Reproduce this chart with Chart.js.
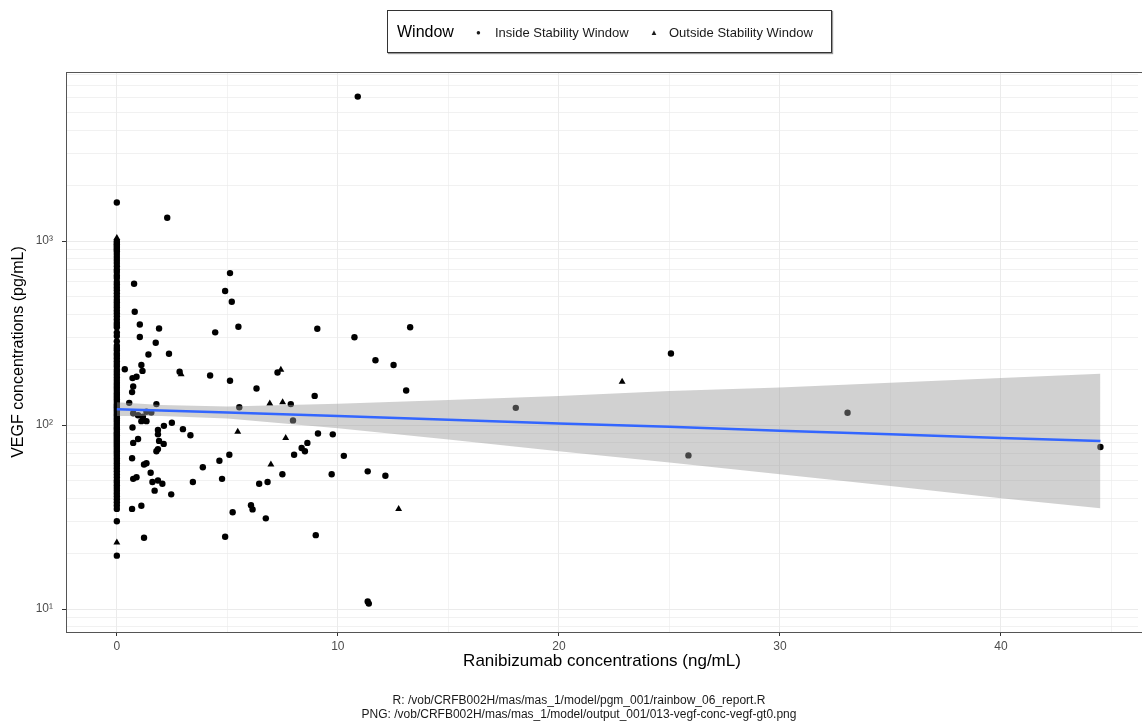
<!DOCTYPE html>
<html>
<head>
<meta charset="utf-8">
<script src="https://cdn.jsdelivr.net/npm/chart.js@4.4.1/dist/chart.umd.min.js"></script>
<style>
  body { margin: 0; background: #fff; font-family: 'Liberation Sans', Arial, sans-serif; }
  #wrap { position: relative; width: 1142px; height: 727px; overflow: hidden; }
  #chart { position: absolute; left: 0; top: 0; }
  #legend {
    position: absolute; left: 387px; top: 10px; width: 443px; height: 41px;
    border: 1px solid #333; box-shadow: 1px 1px 1px #999; background: #fff;
    color: #1a1a1a;
  }
  #legend span { position: absolute; top: 50%; transform: translateY(-50%); white-space: nowrap; }
  #legend .ttl { left: 9px; font-size: 16px; color: #000; }
  #legend .sym { font-size: 8px; }
  #legend .lab { font-size: 13px; }
  #caption {
    position: absolute; left: 0; width: 1158px; top: 693px; text-align: center;
    font-size: 12px; line-height: 14px; color: #1a1a1a;
  }
</style>
</head>
<body>
<div id="wrap">
  <canvas id="chart" width="1142" height="727"></canvas>
  <div id="legend">
    <span class="ttl">Window</span>
    <span class="sym" style="left:88px">&#9679;</span><span class="lab" style="left:107px">Inside Stability Window</span>
    <span class="sym" style="left:262px">&#9650;</span><span class="lab" style="left:281px">Outside Stability Window</span>
  </div>
  <div id="caption">
    R: /vob/CRFB002H/mas/mas_1/model/pgm_001/rainbow_06_report.R<br>
    PNG: /vob/CRFB002H/mas/mas_1/model/output_001/013-vegf-conc-vegf-gt0.png
  </div>
</div>
<script>
// VEGF at zero ranibizumab (inside window)
const zeroInside = [1620, 1000, 980, 960, 940, 920, 900, 880, 850, 820, 790, 760, 730, 700, 680, 650, 630, 600,
  580, 560, 540, 520, 500, 480, 465, 450, 435, 420, 405, 390, 375, 360, 350, 340, 318, 305,
  285, 270, 262, 255, 245, 238, 230, 222, 215, 208, 200, 194, 188, 182, 176, 170, 165, 160,
  155, 150, 146, 142, 138, 134, 130, 127, 124, 121, 118, 115, 112, 109, 106, 103, 100, 97,
  95, 92, 90, 88, 86, 84, 82, 80, 78, 76, 74, 72, 70, 68, 66, 64, 62, 60, 58, 56, 54, 52,
  50, 48.5, 47, 45.5, 44, 42.5, 41, 39.5, 38, 36.5, 35, 30, 19.5];
const zeroOutside = [1040, 23];

// other points, inside window
const inX = [2.28, 0.78, 0.81, 1.04, 1.91, 1.04, 1.76, 1.43, 2.36, 0.36, 1.11, 1.16, 0.71, 0.89,
  2.84, 4.22, 4.45, 4.9, 5.12, 5.2, 5.5, 9.07, 7.27, 5.12, 0.74, 0.69, 6.32, 8.95, 0.56, 1.79,
  5.54, 7.87, 0.74, 0.96, 1.18, 1.34, 1.56, 1.11, 1.34, 7.97, 2.49, 2.13, 0.71, 1.86, 2.99,
  1.86, 3.33, 9.1, 9.77, 1.91, 0.74, 0.96, 2.12, 8.62, 8.36, 8.51, 8.02, 1.79, 1.86, 5.09,
  0.69, 4.64, 1.23, 1.34, 3.89, 1.53, 7.49, 9.72, 0.74, 0.89, 4.76, 1.61, 1.86, 2.06, 3.44,
  6.44, 6.82, 1.71, 2.46, 0.69, 1.11, 5.24, 6.07, 6.14, 6.74, 1.23, 4.9, 9.0, 10.9, 13.27,
  10.75, 11.7, 12.52, 13.09, 18.05, 10.27, 11.35, 12.15, 11.35, 11.4, 25.07, 25.86, 33.06, 44.5];
const inY = [1340, 586, 413, 352, 335, 301, 280, 242, 244, 201, 212, 197, 180, 183,
  195, 186, 319, 535, 670, 468, 342, 334, 193, 174, 162, 151, 158, 144, 132, 130,
  125, 130, 116, 113, 111, 118, 117, 105, 105, 106, 103, 99, 97, 94, 95,
  89, 88, 90, 89, 82, 80, 84, 79, 80, 75, 72, 69, 72, 74, 69,
  66, 64, 61, 62, 59, 55, 54, 54, 51, 52, 51, 49, 50, 48, 49,
  48, 49, 44, 42, 35, 36.4, 33.6, 36.7, 34.8, 31.1, 24.4, 24.7, 25.2, 6100, 340,
  300, 225, 212, 154, 124, 68, 56, 53, 11, 10.7, 245, 68.4, 116.7, 76];

// other points, outside window
const outX = [2.91, 7.42, 6.92, 7.5, 5.47, 7.64, 6.97, 12.75, 22.86];
const outY = [189, 200, 131, 133, 92, 85, 61, 35, 172];

// linear fit on log scale with 95% band
const fitX = [0, 2, 5, 10, 15, 20, 25, 30, 35, 40, 44.5];
const fitY = [122, 120, 117, 112, 107, 102, 98, 93, 89, 85, 82];
const fitHi = [133, 128.5, 126, 130.5, 137, 144, 153, 160, 170, 180, 190];
const fitLo = [112, 112, 108.5, 96, 83.5, 72, 62.6, 54, 46.6, 40, 35.3];

const xTicks = [0, 5, 10, 15, 20, 25, 30, 35, 40, 45];
const yTicks = [8, 9, 10, 20, 30, 40, 50, 60, 70, 80, 90, 100, 200, 300, 400, 500, 600, 700, 800, 900,
  1000, 2000, 3000, 4000, 5000, 6000, 7000, 8000];
const yLabels = {10: '10\u00b9', 100: '10\u00b2', 1000: '10\u00b3'};

Chart.defaults.font.family = "'Liberation Sans', Arial, sans-serif";

const insidePts = zeroInside.map(v => ({x: 0, y: v}))
  .concat(inX.map((x, i) => ({x: x, y: inY[i]})));
const outsidePts = zeroOutside.map(v => ({x: 0, y: v}))
  .concat(outX.map((x, i) => ({x: x, y: outY[i]})));
const pts = (xs, ys) => xs.map((x, i) => ({x: x, y: ys[i]}));

const panelBorder = {
  id: 'panelBorder',
  afterDraw(chart) {
    const a = chart.chartArea, c = chart.ctx;
    c.save();
    c.strokeStyle = '#555';
    c.lineWidth = 1;
    c.strokeRect(a.left + 0.5, a.top + 0.5, a.right - a.left + 20, a.bottom - a.top);
    c.restore();
  }
};

new Chart(document.getElementById('chart'), {
  type: 'scatter',
  data: {
    datasets: [
      {
        type: 'line', label: 'upper', data: pts(fitX, fitHi), order: 1,
        borderWidth: 0, pointRadius: 0, fill: '+1',
        backgroundColor: 'rgba(153,153,153,0.45)', borderColor: 'rgba(0,0,0,0)'
      },
      {
        type: 'line', label: 'lower', data: pts(fitX, fitLo), order: 1,
        borderWidth: 0, pointRadius: 0, fill: false, borderColor: 'rgba(0,0,0,0)'
      },
      {
        type: 'line', label: 'fit', data: pts(fitX, fitY), order: 0,
        borderColor: '#3366FF', borderWidth: 2.5, pointRadius: 0, fill: false
      },
      {
        label: 'Inside Stability Window', data: insidePts, order: 2,
        pointStyle: 'circle', pointRadius: 3.2, backgroundColor: '#000', borderColor: '#000', borderWidth: 0
      },
      {
        label: 'Outside Stability Window', data: outsidePts, order: 2,
        pointStyle: 'triangle', pointRadius: 4, backgroundColor: '#000', borderColor: '#000', borderWidth: 0
      }
    ]
  },
  options: {
    responsive: false,
    animation: false,
    devicePixelRatio: 1,
    layout: { padding: { top: 72, right: 0, bottom: 55, left: 0 } },
    plugins: { legend: { display: false }, tooltip: { enabled: false } },
    scales: {
      x: {
        type: 'linear', min: -2.3, max: 46.2,
        afterBuildTicks: s => { s.ticks = xTicks.map(v => ({value: v})); },
        afterFit: s => { s.height = 40; },
        border: { display: false },
        grid: {
          color: '#ebebeb', tickLength: 4,
          lineWidth: c => (c.tick && c.tick.value % 10 === 0) ? 1 : 0.6,
          tickColor: c => (c.tick && c.tick.value % 10 === 0) ? '#333' : 'rgba(0,0,0,0)'
        },
        ticks: {
          autoSkip: false, maxRotation: 0, padding: 3, color: '#4d4d4d', font: { size: 12 },
          callback: v => (v % 10 === 0 ? String(v) : '')
        },
        title: { display: true, text: 'Ranibizumab concentrations (ng/mL)', color: '#000',
          font: { size: 17 }, padding: { top: 0, bottom: 0 } }
      },
      y: {
        type: 'logarithmic', min: 7.5, max: 8300,
        afterBuildTicks: s => { s.ticks = yTicks.map(v => ({value: v})); },
        afterFit: s => { s.width = 66; },
        border: { display: false },
        grid: {
          color: '#ebebeb', tickLength: 4,
          lineWidth: c => (c.tick && yLabels[c.tick.value]) ? 1 : 0.7,
          tickColor: c => (c.tick && yLabels[c.tick.value]) ? '#333' : 'rgba(0,0,0,0)'
        },
        ticks: {
          autoSkip: false, padding: 9, color: '#4d4d4d', font: { size: 12 },
          callback: v => yLabels[v] || ''
        },
        title: { display: true, text: 'VEGF concentrations (pg/mL)', color: '#000',
          font: { size: 16 }, padding: { top: 9, bottom: 0 } }
      }
    }
  },
  plugins: [panelBorder]
});
</script>
</body>
</html>
